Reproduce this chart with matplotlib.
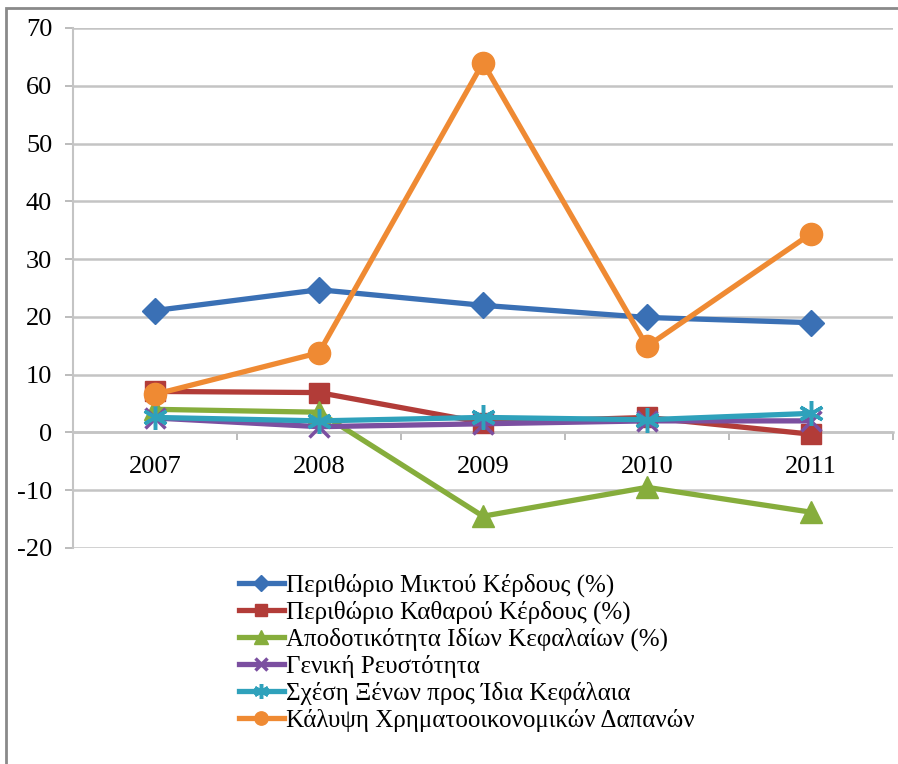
import numpy as np
import matplotlib.pyplot as plt
from matplotlib.patches import Rectangle

years = ['2007', '2008', '2009', '2010', '2011']

gross_margin = [21.1, 24.7, 22.0, 19.9, 19.0]
net_margin = [7.1, 6.9, 1.7, 2.6, -0.3]
roe = [4.0, 3.5, -14.5, -9.5, -13.8]
liquidity = [2.5, 1.0, 1.5, 2.0, 2.0]
debt_equity = [2.6, 2.0, 2.6, 2.2, 3.3]
fin_cover = [6.6, 13.8, 64.0, 14.9, 34.4]

labels = ['Περιθώριο Μικτού Κέρδους (%)',
          'Περιθώριο Καθαρού Κέρδους (%)',
          'Αποδοτικότητα Ιδίων Κεφαλαίων (%)',
          'Γενική Ρευστότητα',
          'Σχέση Ξένων προς Ίδια Κεφάλαια',
          'Κάλυψη Χρηματοοικονομικών Δαπανών']

plt.rcParams['font.family'] = ['Liberation Serif', 'DejaVu Serif']
plt.rcParams['axes.unicode_minus'] = False

fig = plt.figure(figsize=(8.98, 7.64), dpi=100)
ax = fig.add_axes([73/898, 1-548/764, (893-73)/898, (548-28)/764])

x = np.arange(len(years))
series = [
    (gross_margin, '#3a70b5', 'D', 13),
    (net_margin, '#b23c38', 's', 14),
    (roe, '#86ad3c', '^', 16),
    (liquidity, '#7b4fa0', 'x', 14),
    (debt_equity, '#2fa1bb', (6, 2, 0), 18),
    (fin_cover, '#ef8a33', 'o', 16),
]
for i, (vals, col, mk, ms) in enumerate(series):
    ax.plot(x, vals, color=col, lw=3.8, marker=mk, ms=ms, mew=2.5 if mk in ('x',) or isinstance(mk, tuple) else 1,
            mec=col, mfc=col, label=labels[i], zorder=3+i, solid_joinstyle='round')

ax.set_xlim(-0.5, 4.5)
ax.set_ylim(-20, 70)
ax.set_yticks(np.arange(-20, 71, 10))
ax.yaxis.grid(True, color='#c4c4c4', lw=1.8)
ax.set_axisbelow(True)

ax.spines['top'].set_visible(False)
ax.spines['right'].set_visible(False)
ax.spines['left'].set_color('#c4c4c4')
ax.spines['left'].set_linewidth(1.5)
ax.spines['bottom'].set_position(('data', 0))
ax.spines['bottom'].set_color('#c4c4c4')
ax.spines['bottom'].set_linewidth(1.8)

ax.set_xticks(np.arange(-0.5, 4.6, 1))
ax.set_xticklabels([])
ax.set_xticks(x, minor=True)
ax.set_xticklabels(years, minor=True)
ax.tick_params(axis='x', which='major', length=6, width=1.2, color='#b0b0b0', direction='out')
ax.tick_params(axis='x', which='minor', length=0, pad=17, labelsize=19)
ax.tick_params(axis='y', length=6, width=1.2, color='#b0b0b0', pad=9, labelsize=19)

leg = fig.legend(loc='upper left', bbox_to_anchor=(226/898, 1-561/764), frameon=False,
                 fontsize=18, handlelength=1.8, handletextpad=0.08, labelspacing=0.15,
                 markerscale=0.6, borderpad=0)

fig.patches.append(Rectangle((6/898, -0.1), 1.2, 1-8/764+0.1, transform=fig.transFigure,
                             fill=False, edgecolor='#8a8a8a', lw=2))

fig.savefig('out.png', dpi=100)
